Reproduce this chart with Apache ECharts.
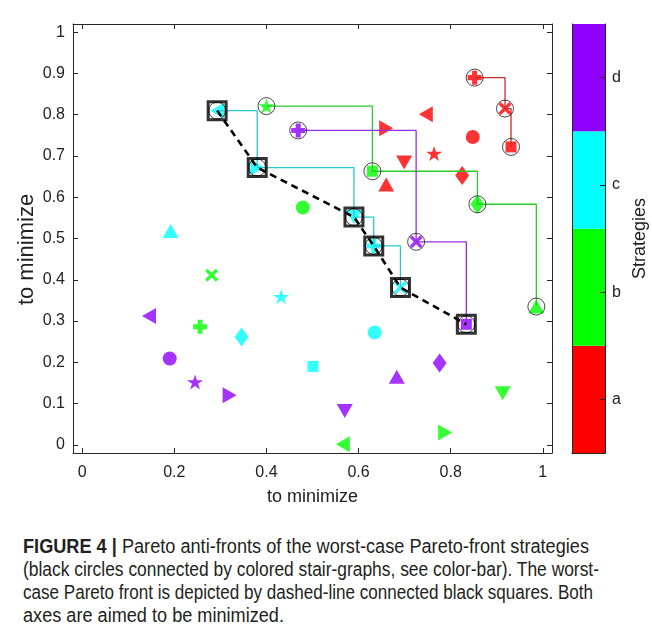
<!DOCTYPE html>
<html>
<head>
<meta charset="utf-8">
<script src="https://cdn.jsdelivr.net/npm/echarts@6/dist/echarts.min.js"></script>
<style>
  html, body { margin: 0; padding: 0; background: #fff; }
  #chart { position: absolute; left: 0; top: 0; width: 652px; height: 520px; }
  #caption {
    position: absolute; left: 23px; top: 535px;
    font-family: "Liberation Sans Narrow", "Arial Narrow", "Liberation Sans", sans-serif;
    font-size: 20px; line-height: 23px; color: #231f20;
  }
  #caption div { height: 23px; white-space: nowrap; }
  #caption .ln { display: inline-block; transform-origin: 0 0; }
  #caption b { font-weight: bold; }
</style>
</head>
<body>
<div id="chart"></div>
<div id="caption">
  <div><span class="ln"><b>FIGURE 4 |</b> Pareto anti-fronts of the worst-case Pareto-front strategies</span></div>
  <div><span class="ln">(black circles connected by colored stair-graphs, see color-bar). The worst-</span></div>
  <div><span class="ln">case Pareto front is depicted by dashed-line connected black squares. Both</span></div>
  <div><span class="ln">axes are aimed to be minimized.</span></div>
</div>
<script>
// Marker shape of each point, same order in every strategy's point list
const shapeNames = ['circle', 'plus', 'cross', 'square', 'diamond', 'triUp', 'triDown', 'triLeft', 'triRight', 'star'];

// Strategy labels (colour-bar) and colours
const strategyNames = ['a', 'b', 'c', 'd'];
const strategyColors = ['#ff0000', '#00ff00', '#00ffff', '#8f00ff'];
const stairColors = ['#cc2a2a', '#2acc2a', '#2ac8cc', '#962ee0'];

// Objective values [x, y] per strategy, ordered as shapeNames
const pointsA = [[0.848, 0.746], [0.852, 0.890], [0.918, 0.815], [0.931, 0.722], [0.825, 0.653],
                 [0.660, 0.631], [0.699, 0.684], [0.746, 0.801], [0.660, 0.767], [0.764, 0.706]];
const pointsB = [[0.479, 0.575], [0.256, 0.286], [0.281, 0.411], [0.630, 0.663], [0.858, 0.583],
                 [0.986, 0.335], [0.913, 0.125], [0.566, 0.001], [0.788, 0.030], [0.400, 0.821]];
const pointsC = [[0.635, 0.272], [0.633, 0.482], [0.691, 0.381], [0.501, 0.190], [0.346, 0.261],
                 [0.192, 0.518], [0.590, 0.552], [0.293, 0.810], [0.380, 0.672], [0.432, 0.359]];
const pointsD = [[0.190, 0.209], [0.469, 0.762], [0.725, 0.492], [0.834, 0.292], [0.776, 0.198],
                 [0.683, 0.165], [0.570, 0.082], [0.145, 0.312], [0.320, 0.120], [0.245, 0.152]];

// Pareto anti-front members of each strategy (indices into shapeNames, ascending x)
const antiFrontA = [1, 2, 3];
const antiFrontB = [9, 3, 4, 5];
const antiFrontC = [7, 8, 6, 1, 2];
const antiFrontD = [1, 2, 3];

// Worst-case Pareto front: [strategy index, shape index]
const worstFront = [[2, 7], [2, 8], [2, 6], [2, 1], [2, 2], [3, 3]];

// Axis ticks
const xTicks = [0, 0.2, 0.4, 0.6, 0.8, 1];
const yTicks = [0, 0.1, 0.2, 0.3, 0.4, 0.5, 0.6, 0.7, 0.8, 0.9, 1];

// Colour-bar band heights (bottom to top) and tick positions
const colorbarBands = [1, 1.09, 0.91, 1];
const colorbarTicks = [0.5, 1.5, 2.5, 3.5];

const allPoints = [pointsA, pointsB, pointsC, pointsD];
const allFronts = [antiFrontA, antiFrontB, antiFrontC, antiFrontD];

const shapeSymbols = {
  circle:   { symbol: 'circle', size: 14 },
  plus:     { symbol: 'path://M32,0H68V32H100V68H68V100H32V68H0V32H32Z', size: 14 },
  cross:    { symbol: 'path://M0,18L18,0L50,32L82,0L100,18L68,50L100,82L82,100L50,68L18,100L0,82L32,50Z', size: 13 },
  square:   { symbol: 'rect', size: 11 },
  diamond:  { symbol: 'diamond', size: [14, 19] },
  triUp:    { symbol: 'path://M50,0L100,100L0,100Z', size: [16, 14] },
  triDown:  { symbol: 'path://M0,0L100,0L50,100Z', size: [16, 14] },
  triLeft:  { symbol: 'path://M0,50L100,0L100,100Z', size: [14, 16] },
  triRight: { symbol: 'path://M0,0L100,50L0,100Z', size: [14, 16] },
  star:     { symbol: 'path://M0,-100L22.5,-30.9L95.1,-30.9L36.3,11.8L58.8,80.9L0,38.2L-58.8,80.9L-36.3,11.8L-95.1,-30.9L-22.5,-30.9Z', size: [16, 15] }
};

const inkColor = '#262626';
const fontFamily = '"Liberation Sans", Arial, Helvetica, sans-serif';

function mainAxis(pos, ticks, showLabels, extra) {
  return Object.assign({
    type: 'value', gridIndex: 0, position: pos,
    min: -0.02, max: 1.02,
    axisLine: { show: true, onZero: false, lineStyle: { color: inkColor, width: 1 } },
    axisTick: { show: true, inside: true, length: 5, customValues: ticks, lineStyle: { color: inkColor } },
    axisLabel: { show: showLabels, customValues: ticks },
    splitLine: { show: false }
  }, extra || {});
}

const series = [];

// Strategy points
allPoints.forEach((pts, s) => {
  series.push({
    type: 'scatter', xAxisIndex: 0, yAxisIndex: 0, z: 2,
    itemStyle: { color: strategyColors[s] },
    data: pts.map((p, i) => {
      const sh = shapeSymbols[shapeNames[i]];
      return { value: p, symbol: sh.symbol, symbolSize: sh.size };
    })
  });
});

// Stair-graphs of the anti-fronts
allFronts.forEach((idx, s) => {
  series.push({
    type: 'line', xAxisIndex: 0, yAxisIndex: 0, z: 3,
    step: 'end', symbol: 'none',
    lineStyle: { color: stairColors[s], width: 1.3 },
    data: idx.map(i => allPoints[s][i])
  });
});

// Black circles around the anti-front members
series.push({
  type: 'scatter', xAxisIndex: 0, yAxisIndex: 0, z: 4,
  symbol: 'circle', symbolSize: 17,
  itemStyle: { color: 'rgba(0,0,0,0)', borderColor: '#1a1a1a', borderWidth: 1 },
  data: allFronts.flatMap((idx, s) => idx.map(i => allPoints[s][i]))
});

// Worst-case Pareto front: dashed connection and black squares
const worstPts = worstFront.map(([s, i]) => allPoints[s][i]);
series.push({
  type: 'line', xAxisIndex: 0, yAxisIndex: 0, z: 5, symbol: 'none',
  lineStyle: { color: '#000', width: 2.6, type: [7, 5] },
  data: worstPts
});
series.push({
  type: 'scatter', xAxisIndex: 0, yAxisIndex: 0, z: 6,
  symbol: 'rect', symbolSize: 18,
  itemStyle: { color: 'rgba(0,0,0,0)', borderColor: '#000', borderWidth: 3 },
  data: worstPts
});

// Colour-bar bands
colorbarBands.forEach((h, s) => {
  series.push({
    type: 'bar', xAxisIndex: 2, yAxisIndex: 2, stack: 'cbar', z: 2,
    barWidth: '100%', barCategoryGap: '0%',
    itemStyle: { color: strategyColors[s] },
    data: [h]
  });
});

const tickLabel = (ticks, margin) => ({
  show: true, customValues: ticks, color: '#222', fontSize: 16, margin: margin, fontFamily: fontFamily,
  formatter: v => String(+v.toFixed(2))
});

const option = {
  animation: false,
  backgroundColor: '#fff',
  grid: [
    { left: 73, top: 24, width: 479, height: 429 },
    { left: 572, top: 24, width: 33, height: 429 }
  ],
  xAxis: [
    mainAxis('bottom', xTicks, true, {
      name: 'to minimize', nameLocation: 'middle', nameGap: 35, nameMoveOverlap: false,
      nameTextStyle: { fontSize: 18, color: '#222', fontFamily: fontFamily },
      axisLabel: tickLabel(xTicks, 12)
    }),
    mainAxis('top', xTicks, false),
    {
      type: 'category', gridIndex: 1, data: [''], position: 'bottom', z: 10,
      axisLine: { show: true, lineStyle: { color: inkColor } },
      axisTick: { show: false }, axisLabel: { show: false }
    },
    {
      type: 'category', gridIndex: 1, data: [''], position: 'top', z: 10,
      axisLine: { show: true, lineStyle: { color: inkColor } },
      axisTick: { show: false }, axisLabel: { show: false }
    }
  ],
  yAxis: [
    mainAxis('left', yTicks, true, {
      name: 'to minimize', nameLocation: 'middle', nameGap: 35, nameMoveOverlap: false,
      nameTextStyle: { fontSize: 22, color: '#222', fontFamily: fontFamily, padding: [0, 22, 0, 0] },
      axisLabel: tickLabel(yTicks, 8)
    }),
    mainAxis('right', yTicks, false),
    {
      type: 'value', gridIndex: 1, position: 'right', min: 0, max: 4, z: 10,
      axisLine: { show: true, lineStyle: { color: inkColor } },
      axisTick: { show: true, inside: true, length: 5, customValues: colorbarTicks, lineStyle: { color: inkColor } },
      axisLabel: {
        customValues: colorbarTicks, color: '#222', fontSize: 16, margin: 7, fontFamily: fontFamily,
        formatter: v => strategyNames[Math.floor(v)]
      },
      splitLine: { show: false },
      name: 'Strategies', nameLocation: 'middle', nameGap: 26, nameRotate: 90,
      nameTextStyle: { fontSize: 18, color: '#222', fontFamily: fontFamily }
    },
    {
      type: 'value', gridIndex: 1, position: 'left', min: 0, max: 4, z: 10,
      axisLine: { show: true, lineStyle: { color: inkColor } },
      axisTick: { show: false }, axisLabel: { show: false }, splitLine: { show: false }
    }
  ],
  series: series
};

const chart = echarts.init(document.getElementById('chart'), null, { renderer: 'canvas' });
chart.setOption(option);

// Fit each caption line to its column width
const captionLineWidths = [566, 576, 570, 261];
document.querySelectorAll('#caption .ln').forEach((el, i) => {
  const w = el.getBoundingClientRect().width;
  if (w > 0) el.style.transform = 'scaleX(' + (captionLineWidths[i] / w) + ')';
});
</script>
</body>
</html>
